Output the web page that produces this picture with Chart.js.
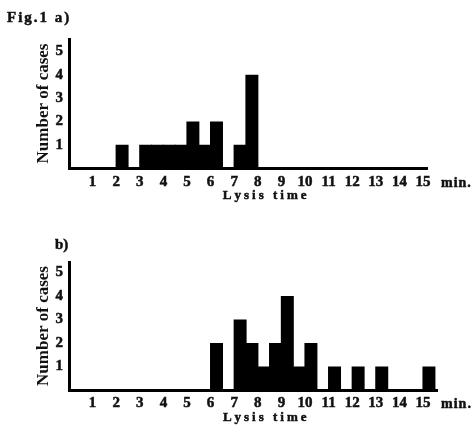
<!DOCTYPE html>
<html><head><meta charset="utf-8">
<script src="https://cdn.jsdelivr.net/npm/chart.js@4.4.1/dist/chart.umd.min.js"></script>
<style>
html,body{margin:0;padding:0;background:#fff;overflow:hidden}
#wrap{position:relative;width:473px;height:432px;background:#fff;}
canvas{position:absolute;left:0;}
#ca{top:0}
#cb{top:210px}
</style></head><body>
<div id="wrap"><canvas id="ca" width="473" height="210"></canvas><canvas id="cb" width="473" height="222"></canvas></div>
<script>
// ---- data ----
const binWidth = 0.5; // minutes per histogram bin
const binStartA = [2, 3, 3.5, 4, 4.5, 5, 5.5, 6, 7, 7.5];
const countsA   = [1, 1, 1,   1, 1,   2, 1,   2, 1, 4];
const binStartB = [6, 7, 7.5, 8, 8.5, 9, 9.5, 10, 11, 12, 13, 15];
const countsB   = [2, 3, 2,   1, 2,   4, 1,   2,  1,  1,  1,  1];
const xTickLabels = [1, 2, 3, 4, 5, 6, 7, 8, 9, 10, 11, 12, 13, 14, 15];
const yTickLabels = [1, 2, 3, 4, 5];
const panelLabels = ['Fig.1 a)', 'b)'];
const xTitle = 'Lysis time';
const xUnit = 'min.';
const yTitle = 'Number of cases';

const FONT = "'Liberation Serif', 'DejaVu Serif', serif";
const INK = '#111';

function toPoints(starts, counts) {
  return starts.map((s, i) => ({ x: s + binWidth / 2, y: counts[i] }));
}

// draw text with extra spacing between characters (slightly stroked to mimic the heavy print)
function spacedText(ctx, text, x, y, spacing, align) {
  const chars = Array.from(text);
  const widths = chars.map(c => ctx.measureText(c).width);
  const total = widths.reduce((a, b) => a + b, 0) + spacing * (chars.length - 1);
  let cx = align === 'center' ? x - total / 2 : x;
  ctx.textAlign = 'left';
  chars.forEach((c, i) => {
    ctx.fillText(c, cx, y);
    ctx.strokeText(c, cx, y);
    cx += widths[i] + spacing;
  });
}

function makeChart(id, starts, counts, cfg) {
  const textPlugin = {
    id: 'extraText' + id,
    afterDraw(chart) {
      const ctx = chart.ctx, xs = chart.scales.x, area = chart.chartArea;
      ctx.save();
      ctx.fillStyle = INK;
      ctx.strokeStyle = INK;
      ctx.lineWidth = 0.5;
      ctx.textBaseline = 'alphabetic';
      ctx.font = 'bold 15px ' + FONT;
      spacedText(ctx, cfg.panelLabel, cfg.panelX, cfg.panelY, cfg.panelSpacing, 'left');
      ctx.font = 'bold 13px ' + FONT;
      spacedText(ctx, xTitle, xs.getPixelForValue(8.25) + 1, area.bottom + 31, 3, 'center');
      ctx.font = 'bold 14px ' + FONT;
      spacedText(ctx, xUnit, xs.getPixelForValue(xTickLabels[xTickLabels.length - 1]) + 18, area.bottom + cfg.unitDy, 1, 'left');
      ctx.restore();
    }
  };
  const tickFont = { family: FONT, size: 15, weight: 'bold' };
  return new Chart(document.getElementById(id), {
    type: 'bar',
    data: {
      datasets: [{
        data: toPoints(starts, counts),
        backgroundColor: '#000',
        borderWidth: 0,
        barPercentage: 1.1,
        categoryPercentage: 1
      }]
    },
    options: {
      responsive: false,
      animation: false,
      devicePixelRatio: 1,
      layout: { padding: { top: cfg.padTop, right: cfg.padRight, bottom: 0, left: 0 } },
      plugins: { legend: { display: false }, tooltip: { enabled: false } },
      scales: {
        x: {
          type: 'linear',
          offset: false,
          min: 0, max: cfg.xMax,
          grid: { display: false, drawTicks: false },
          border: { display: true, width: 3, color: '#000' },
          afterFit: (s) => { s.height = 42; },
          ticks: {
            stepSize: 1, includeBounds: false, autoSkip: false, maxRotation: 0,
            padding: cfg.xTickPad, color: INK, font: tickFont,
            textStrokeColor: INK, textStrokeWidth: 0.5,
            callback: (v) => xTickLabels.includes(v) ? String(v) : ''
          }
        },
        y: {
          min: 0, max: cfg.yMax,
          grid: { display: false, drawTicks: false },
          border: { display: true, width: 3, color: '#000' },
          afterFit: (s) => { s.width = 69; },
          title: {
            display: true, text: yTitle, color: INK,
            font: { family: FONT, size: 17, weight: 'bold' },
            padding: { top: 33, bottom: 0 }
          },
          ticks: {
            stepSize: 1, includeBounds: false, padding: 6, color: INK, font: tickFont,
            textStrokeColor: INK, textStrokeWidth: 0.5,
            callback: (v) => yTickLabels.includes(v) ? String(v) : ''
          }
        }
      }
    },
    plugins: [textPlugin]
  });
}

makeChart('ca', binStartA, countsA, {
  xMax: 15.2, yMax: 5.54, padTop: 39, padRight: 45.3, xTickPad: 5, unitDy: 19,
  panelLabel: panelLabels[0], panelX: 7, panelY: 22, panelSpacing: 2
});
makeChart('cb', binStartB, countsB, {
  xMax: 15.6, yMax: 5.45, padTop: 52, padRight: 35.8, xTickPad: 4, unitDy: 18,
  panelLabel: panelLabels[1], panelX: 55, panelY: 39, panelSpacing: 0
});
</script>
</body></html>
